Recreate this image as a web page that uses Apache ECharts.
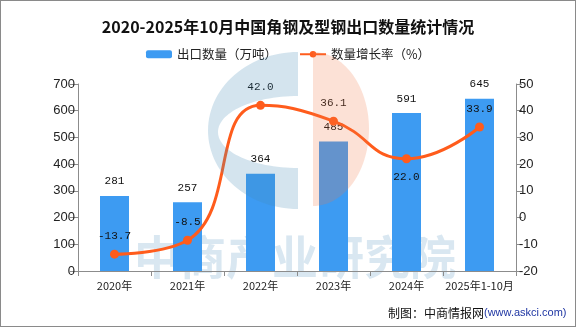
<!DOCTYPE html>
<html>
<head>
<meta charset="utf-8">
<script src="https://cdn.jsdelivr.net/npm/echarts@6/dist/echarts.min.js"></script>
<style>
  html, body { margin: 0; padding: 0; background: #fff; }
  #chart { width: 576px; height: 327px; box-sizing: border-box; border: 1px solid #8a8a8a; }
</style>
</head>
<body>
<div id="chart"></div>
<script>
// Angle & section steel exports, 2020 – Oct 2025
const categories = ['2020年', '2021年', '2022年', '2023年', '2024年', '2025年1-10月'];
const exportVolume = [281, 257, 364, 485, 591, 645];      // 万吨
const growthRate = [-13.7, -8.5, 42.0, 36.1, 22.0, 33.9];  // %
const volumeTicks = { min: 0, max: 700, interval: 100 };
const rateTicks = { min: -20, max: 50, interval: 10 };

const chart = echarts.init(document.getElementById('chart'), null, { renderer: 'canvas' });

const cjk = '"Noto Sans CJK SC", "Noto Sans", sans-serif';
const num = '"Liberation Mono", monospace';
const axisGray = '#8c8c8c';

// growth labels sit below a point that dips beneath both neighbours
const rateData = growthRate.map((v, i) => {
  const dip = i > 0 && i < growthRate.length - 1 &&
    v < growthRate[i - 1] && v < growthRate[i + 1];
  return { value: v, label: { position: dip ? 'bottom' : 'top' } };
});

// half-ellipse outline helper for the logo watermark
function arcPoints(cx, cy, rx, ry, a0, a1, n) {
  const pts = [];
  for (let k = 0; k <= n; k++) {
    const a = a0 + (a1 - a0) * k / n;
    pts.push([cx + rx * Math.cos(a), cy + ry * Math.sin(a)]);
  }
  return pts;
}
const logoBlue = arcPoints(297, 129.5, 90, 78.5, -Math.PI / 2, -Math.PI * 1.5, 60)
  .concat(arcPoints(297, 131, 80, 36, Math.PI / 2, Math.PI * 1.5, 60));
const logoOrange = arcPoints(312, 128, 56, 77, -Math.PI / 2, Math.PI / 2, 60);

const option = {
  animation: false,
  title: {
    text: '2020-2025年10月中国角钢及型钢出口数量统计情况',
    left: 'center',
    top: 13,
    textStyle: { fontFamily: cjk, fontSize: 16, fontWeight: 'bold', color: '#111' }
  },
  legend: {
    top: 42,
    left: 'center',
    itemWidth: 26,
    itemHeight: 8,
    itemGap: 22,
    textStyle: { fontFamily: cjk, fontSize: 12.5, color: '#222' },
    data: ['出口数量（万吨）', '数量增长率（%）']
  },
  grid: { left: 77, right: 59, top: 83, bottom: 55 },
  xAxis: {
    type: 'category',
    data: categories,
    axisLine: { lineStyle: { color: axisGray } },
    axisTick: { show: true, length: 5, lineStyle: { color: axisGray } },
    axisLabel: { interval: 0, fontFamily: cjk, fontSize: 11, color: '#222', margin: 9 }
  },
  yAxis: [
    {
      type: 'value',
      min: volumeTicks.min, max: volumeTicks.max, interval: volumeTicks.interval,
      splitLine: { show: false },
      axisLine: { show: true, lineStyle: { color: axisGray } },
      axisTick: { show: true, length: 8, lineStyle: { color: axisGray } },
      axisLabel: { fontFamily: '"Liberation Sans", sans-serif', fontSize: 13, color: '#222', margin: 3 }
    },
    {
      type: 'value',
      position: 'right',
      min: rateTicks.min, max: rateTicks.max, interval: rateTicks.interval,
      splitLine: { show: false },
      axisLine: { show: true, lineStyle: { color: axisGray } },
      axisTick: { show: true, length: 6, lineStyle: { color: axisGray } },
      axisLabel: { fontFamily: '"Liberation Sans", sans-serif', fontSize: 13, color: '#222', margin: 3 }
    }
  ],
  series: [
    {
      name: '出口数量（万吨）',
      type: 'bar',
      yAxisIndex: 0,
      barWidth: 29,
      data: exportVolume,
      itemStyle: { color: '#3d9bf2' },
      label: {
        show: true, position: 'top', distance: 9,
        fontFamily: num, fontSize: 11, color: '#111'
      },
      z: 2
    },
    {
      name: '数量增长率（%）',
      type: 'line',
      yAxisIndex: 1,
      smooth: true,
      data: rateData,
      symbol: 'circle',
      symbolSize: 9,
      lineStyle: { color: '#ff5c1c', width: 3 },
      itemStyle: { color: '#ff5c1c' },
      label: {
        show: true, distance: 8,
        fontFamily: num, fontSize: 11, color: '#111',
        formatter: p => p.value.toFixed(1)
      },
      z: 3
    }
  ],
  graphic: [
    // faint publisher mark behind the bars
    {
      type: 'text', z: 0, silent: true,
      x: 133, y: 256,
      style: {
        text: '中商产业研究院',
        fontFamily: cjk, fontSize: 46, fontWeight: 'bold',
        fill: '#d9e7f1', verticalAlign: 'middle', textAlign: 'left'
      }
    },
    // translucent logo over the plot
    {
      type: 'polygon', z: 100, silent: true,
      shape: { points: logoBlue },
      style: { fill: 'rgba(70,140,180,0.23)' }
    },
    {
      type: 'polygon', z: 100, silent: true,
      shape: { points: logoOrange },
      style: { fill: 'rgba(240,120,70,0.22)' }
    },
    // source line
    {
      type: 'text', z: 10, silent: true,
      x: 387, y: 312,
      style: {
        text: '{a|制图：中商情报网}{b|(www.askci.com)}',
        verticalAlign: 'middle',
        rich: {
          a: { fontFamily: cjk, fontSize: 12, fill: '#111' },
          b: { fontFamily: '"Liberation Sans", sans-serif', fontSize: 11, fill: '#1f36a3' }
        }
      }
    }
  ]
};

chart.setOption(option);
</script>
</body>
</html>
